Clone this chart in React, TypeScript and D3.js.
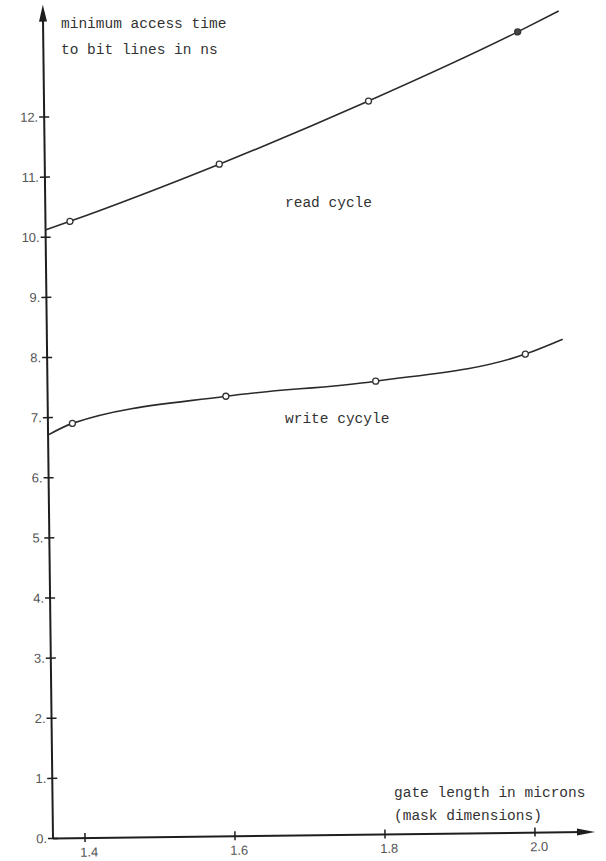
import React from 'react';
import * as d3 from 'd3';

const width = 606;
const height = 861;
// the scanned figure is turned slightly; draw it in its own frame and tilt it
const origin = { x: 53, y: 838.5 };
const tilt = -0.7;

const xTicks = [1.4, 1.6, 1.8, 2.0];
const yTicks = [0, 1, 2, 3, 4, 5, 6, 7, 8, 9, 10, 11, 12];
const yTickLabels = ['0.', '1.', '2.', '3.', '4.', '5.', '6.', '7.', '8.', '9.', '10.', '11.', '12.'];
const xTickLabels = ['1.4', '1.6', '1.8', '2.0'];

// measured points
const readX = [1.39, 1.59, 1.79, 1.99];
const readY = [10.26, 11.18, 12.2, 13.32];
const writeX = [1.39, 1.595, 1.795, 1.995];
const writeY = [6.9, 7.32, 7.54, 7.96];

// where the hand-drawn curves begin and end
const readStart = [1.357, 10.12];
const readEnd = [2.045, 13.66];
const writeStart = [1.357, 6.71];
const writeEnd = [2.045, 8.2];

const yAxisTop = 13.87;
const xAxisEnd = 2.08;

const mono = '"Liberation Mono", "DejaVu Sans Mono", monospace';
const sans = '"Liberation Sans", Arial, sans-serif';
const ink = '#1e1e1e';

const xScale = d3.scaleLinear().domain([1.4, 2.0]).range([85, 535]);
const yScale = d3.scaleLinear().domain([0, 12]).range([origin.y, 117]);

const curve = d3.line<number[]>()
  .x(d => xScale(d[0]))
  .y(d => yScale(d[1]))
  .curve(d3.curveMonotoneX);

const App = () => {
  const readPts = [readStart, ...readX.map((x, i) => [x, readY[i]]), readEnd];
  const writePts = [writeStart, ...writeX.map((x, i) => [x, writeY[i]]), writeEnd];

  const yTop = yScale(yAxisTop);
  const xEnd = xScale(xAxisEnd);

  return (
    <svg width={width} height={height} style={{ position: 'absolute', left: 0, top: 0, background: '#fff' }}>
      <g transform={`rotate(${tilt}, ${origin.x}, ${origin.y})`}>
        {/* axes */}
        <line x1={origin.x} y1={origin.y} x2={origin.x} y2={yTop + 10} stroke={ink} strokeWidth={2} />
        <path d={`M${origin.x},${yTop} L${origin.x - 4},${yTop + 17} L${origin.x + 4},${yTop + 17} Z`} fill={ink} />
        <line x1={origin.x} y1={origin.y} x2={xEnd - 10} y2={origin.y} stroke={ink} strokeWidth={2} />
        <path d={`M${xEnd},${origin.y} L${xEnd - 18},${origin.y - 3.5} L${xEnd - 18},${origin.y + 3.5} Z`} fill={ink} />

        {yTicks.map((t, i) => (
          <g key={`y${t}`}>
            <line x1={origin.x - 5} x2={origin.x + 5} y1={yScale(t)} y2={yScale(t)} stroke={ink} strokeWidth={1.5} />
            <text x={origin.x - 6} y={yScale(t) + 4.5} textAnchor="end" fontFamily={sans} fontSize={13} fill="#555">
              {yTickLabels[i]}
            </text>
          </g>
        ))}

        {xTicks.map((t, i) => (
          <g key={`x${t}`}>
            <line x1={xScale(t)} x2={xScale(t)} y1={origin.y - 5} y2={origin.y + 4} stroke={ink} strokeWidth={1.5} />
            <text x={xScale(t) + 4} y={origin.y + 18.5} textAnchor="middle" fontFamily={sans} fontSize={13} fill="#555">
              {xTickLabels[i]}
            </text>
          </g>
        ))}

        {/* curves */}
        <path d={curve(readPts) || ''} fill="none" stroke="#2a2a2a" strokeWidth={1.6} />
        <path d={curve(writePts) || ''} fill="none" stroke="#2a2a2a" strokeWidth={1.6} />

        {readX.map((x, i) => (
          <circle key={`r${i}`} cx={xScale(x)} cy={yScale(readY[i])} r={3}
            fill={i === readX.length - 1 ? '#444' : '#fff'} stroke="#333" strokeWidth={1.3} />
        ))}
        {writeX.map((x, i) => (
          <circle key={`w${i}`} cx={xScale(x)} cy={yScale(writeY[i])} r={3}
            fill="#fff" stroke="#333" strokeWidth={1.3} />
        ))}
      </g>

      {/* typed annotations */}
      <g fontFamily={mono} fontSize={14.5} fill="#333">
        <text x={61} y={27.5}>minimum access time</text>
        <text x={61} y={53.5}>to bit lines in ns</text>
        <text x={285} y={207}>read cycle</text>
        <text x={285} y={423}>write cycyle</text>
        <text x={394} y={797}>gate length in microns</text>
        <text x={394} y={820}>(mask dimensions)</text>
      </g>
    </svg>
  );
};

export default App;
